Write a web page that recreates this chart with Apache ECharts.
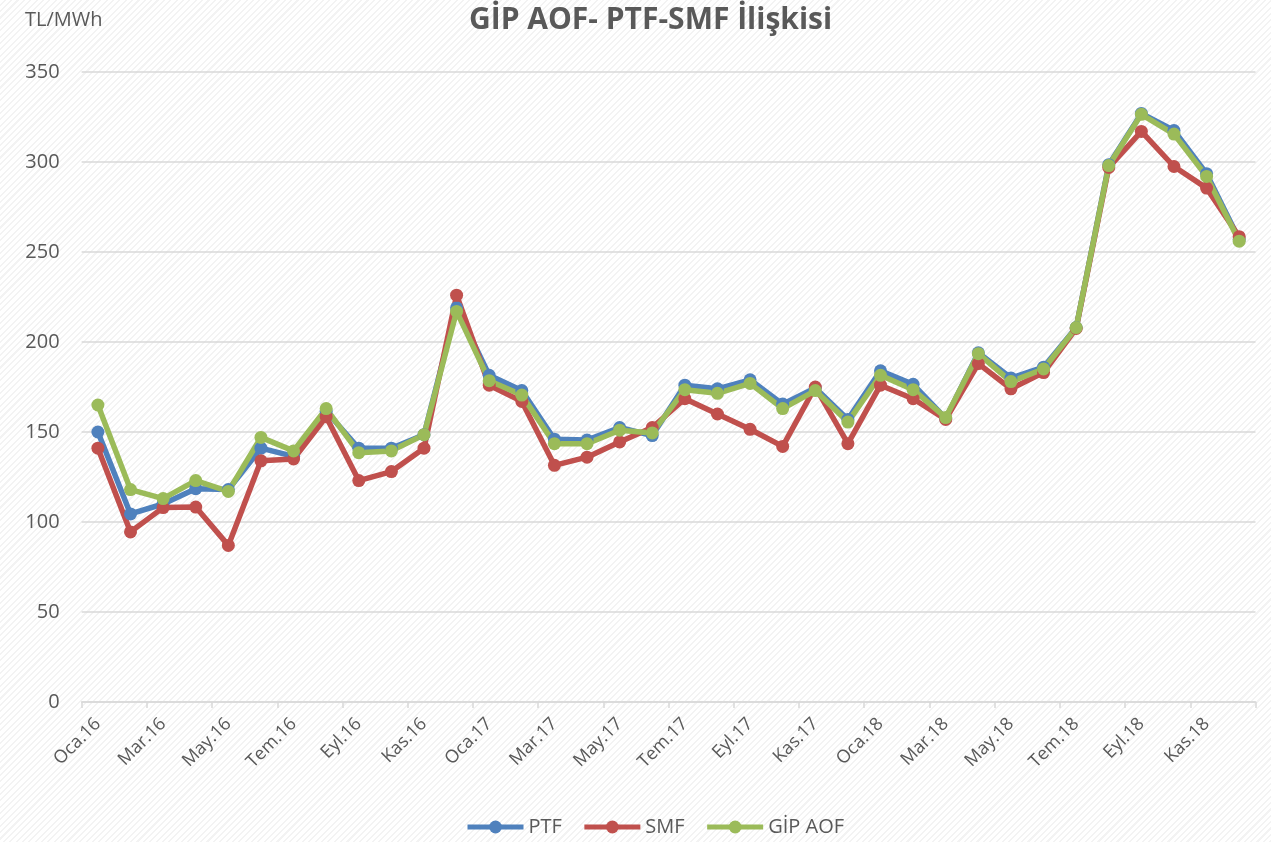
<!DOCTYPE html>
<html><head><meta charset="utf-8">
<script src="https://cdn.jsdelivr.net/npm/echarts@6/dist/echarts.min.js"></script>
<style>
html,body{margin:0;padding:0;}
body{background:#fff repeating-linear-gradient(135deg,#ffffff 0px,#ffffff 3px,#f3f3f3 3px,#f3f3f3 4.5px);}
#c{width:1271px;height:842px;}
</style></head><body><div id="c"></div>
<script>
const months = ['Oca.16','Şub.16','Mar.16','Nis.16','May.16','Haz.16','Tem.16','Ağu.16','Eyl.16','Eki.16','Kas.16','Ara.16',
  'Oca.17','Şub.17','Mar.17','Nis.17','May.17','Haz.17','Tem.17','Ağu.17','Eyl.17','Eki.17','Kas.17','Ara.17',
  'Oca.18','Şub.18','Mar.18','Nis.18','May.18','Haz.18','Tem.18','Ağu.18','Eyl.18','Eki.18','Kas.18','Ara.18'];
const ptf = [150,104.5,110,118.5,118,141,136.5,161.5,141,141,148.5,219,
  181.5,173,146,145.5,152.5,148,176,174,179,165.5,174.5,157,
  184,176.5,157.5,194,180,186,208,298.5,327,317.5,293.5,257];
const smf = [141,94.5,108,108.3,87,134,135,158.5,123,128,141,226,
  176,167,131.5,136,144.5,152.5,168.5,160,151.5,142,175,143.5,
  176,168.5,157,188,174,183,207.5,297,317,297.5,285.5,258.5];
const gip = [165,118,113,123,117,147,139.5,163,138.5,139.5,148.5,217,
  178.5,170.5,143.5,143.5,151,149.5,173.5,171.5,177,163,173,155.5,
  181.5,173.5,158,193.5,178,185,208,298,326.5,315.5,292,256];
const yTicks = {min:0, max:350, step:50};
const seriesNames = ['PTF','SMF','GİP AOF'];
const colors = ['#4F81BD','#C0504D','#9BBB59'];

const chart = echarts.init(document.getElementById('c'), null, {renderer:'canvas'});
const font = '"Open Sans", "DejaVu Sans", sans-serif';
const mk = (name, data, color) => ({
  name, type:'line', data, symbol:'circle', symbolSize:13,
  itemStyle:{color}, lineStyle:{color, width:5.5}, emphasis:{disabled:true}
});
chart.setOption({
  backgroundColor:'transparent',
  animation:false,
  title:[
    {text:'GİP AOF- PTF-SMF İlişkisi', left:464, top:0,
     textStyle:{fontFamily:font, fontSize:30, fontWeight:'bold', color:'#595959'}},
    {text:'TL/MWh', left:20, top:5,
     textStyle:{fontFamily:font, fontSize:20, fontWeight:'normal', color:'#595959'}}
  ],
  legend:{
    data:seriesNames, bottom:0, left:460, itemWidth:56, itemHeight:16, itemGap:20,
    lineStyle:{width:5},
    textStyle:{fontFamily:font, fontSize:20, color:'#595959'}
  },
  grid:{left:81.6, right:15.5, top:72, bottom:140, containLabel:false},
  xAxis:{
    type:'category', data:months, boundaryGap:true,
    axisLine:{lineStyle:{color:'#d9d9d9', width:1.5}},
    axisTick:{show:true, interval:1, length:6, lineStyle:{color:'#d9d9d9', width:1.5}},
    axisLabel:{interval:1, rotate:45, fontFamily:font, fontSize:18, color:'#595959', margin:19},
    splitLine:{show:false}
  },
  yAxis:{
    type:'value', min:yTicks.min, max:yTicks.max, interval:yTicks.step,
    axisLine:{show:false}, axisTick:{show:false},
    axisLabel:{fontFamily:font, fontSize:20, color:'#595959', margin:22},
    splitLine:{lineStyle:{color:'#d9d9d9', width:1.5}}
  },
  series:[mk(seriesNames[0], ptf, colors[0]), mk(seriesNames[1], smf, colors[1]), mk(seriesNames[2], gip, colors[2])]
});
</script></body></html>
